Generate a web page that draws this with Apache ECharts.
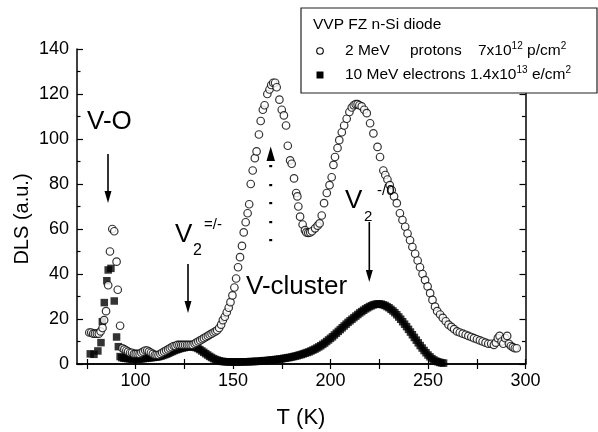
<!DOCTYPE html>
<html>
<head>
<meta charset="utf-8">
<script src="https://cdn.jsdelivr.net/npm/echarts@6/dist/echarts.min.js"></script>
<style>
  html, body { margin: 0; padding: 0; background: #fff; }
  #chart { width: 598px; height: 432px; }
</style>
</head>
<body>
<div id="chart"></div>
<script>
// 2 MeV protons, open circles  [T (K), DLS (a.u.)]
var protons = [
  [76.3,14],[77.3,14],[78.3,13.5],[79.2,13.5],[80.2,13.5],[81.2,13.5],[82.1,14.5],[83.1,16],[83.9,19.5],[84.9,23.5],
  [86.0,35],[86.9,50],[88.1,60],[89.1,59],[90.3,45.5],[90.9,33],[92.1,17],
  [93.3,7],[94.3,6.5],[95.3,6],[96.2,5.5],[97.2,5],[98.2,5],[99.2,4.5],[100.1,4.5],[101.1,4.5],[102.1,4.5],
  [103.0,5],[104.0,5.5],[105.0,6],[106.0,6],[106.9,5.5],[107.9,5],[108.9,4.5],[109.9,4],[110.8,4],[111.8,4],
  [112.8,4.5],[113.7,5],[114.7,5.5],[115.7,6],[116.7,6.5],[117.6,7],[118.6,7.5],[119.6,8],[120.5,8],[121.5,8.5],
  [122.5,8.5],[123.5,8.5],[124.4,8.5],[125.4,8.5],[126.4,8.5],[127.3,8.5],[128.3,8.5],[129.3,8.5],[130.3,9],
  [131.2,9.5],[132.2,10],[133.2,10.5],[134.2,11],[135.1,11.5],[136.1,12],[137.1,12.5],[138.0,13],[139.0,13.5],
  [140.0,14],[141.0,14.5],[141.9,15],[142.9,16],[143.9,17.5],[144.8,19.5],[145.8,21],[146.8,23],[147.8,25],
  [148.7,27.5],[149.7,30.5],[150.7,34],[151.6,38],[152.6,43],[153.6,47.5],[154.6,52.5],[155.5,58.5],[156.5,63],
  [157.5,67],[158.3,71],[159.1,80],[160.1,86],[161.2,91.5],[162.1,94.5],[163.3,102],[164.2,108],[165.3,113],
  [166.2,115],[167.6,120],[168.7,122],[169.6,124],[170.6,125],[171.6,125],[172.4,123],[173.8,117.5],[175.0,113],
  [176.1,110.5],[177.2,106],[178.1,97],[179.3,90.5],[180.1,89],[181.3,82.5],[182.4,76],[183.0,74.5],[183.5,70],
  [184.4,65.5],[185.7,62],[186.9,59.5],[187.6,58.5],[188.6,58.3],[189.6,58.5],[190.5,59],[192.1,60.3],[193.4,61.5],
  [194.4,62.5],[195.5,66],[196.7,71.5],[198.1,76],[199.5,79.5],[200.6,83],[201.5,88.5],[202.3,92],[203.6,96],
  [204.5,99.5],[205.8,103],[207.0,106],[208.3,109],[209.7,112],[210.9,114],[211.9,115],[212.9,115.5],[213.9,115.5],
  [214.8,115],[216.0,114.5],[217.3,113],[218.6,111.5],[220.3,107],[222.0,102.5],[224.1,96.5],[225.4,92],[227.1,86],
  [228.1,84],[229.2,82],[230.4,79.5],[231.4,77.3],[232.6,74.5],[234.0,71.5],[235.6,67],[236.9,64],[238.3,61],
  [239.5,58],[240.8,55],[242.0,52],[243.4,49],[244.7,46],[245.9,43],[247.2,40],[248.5,37.3],[249.8,34.5],
  [251.1,31.5],[252.3,28.5],[253.6,25.5],[254.7,23.5],[256.2,22],[257.6,20.5],[259.1,19],[260.5,17.5],[262.0,16.5],
  [263.4,15.5],[264.9,14.5],[266.3,14],[267.8,13.5],[269.3,13],[270.7,12.5],[272.2,12],[273.6,11.5],[275.1,11],
  [276.6,10.5],[278.0,10],[279.5,9.5],[280.9,9],[282.4,9],[283.8,8.5],[284.8,9.5],[285.8,11.5],[286.7,12.5],
  [287.7,10],[288.6,9],[289.6,11.5],[290.6,12.5],[291.5,9],[292.5,8],[293.5,7.5],[294.5,7],[295.5,7]
];

// 10 MeV electrons, filled squares
var electrons = [
  [76.8,4.5],[78.7,4.3],[80.7,5.8],[82.3,9.5],[83.0,18.8],[84.0,27.3],[85.3,37],[86.0,41.8],[87.4,42.5],[89.1,28],
  [90.3,12],[91.2,7.7],[92.1,3.3],[93,2.8],[94,2.6],[95,2.5],[96,2.4],[97,2.3],[98,2.2],[99,2.2],[100,2.2],
  [101,2.2],[102,2.2],[103,2.3],[104,2.4],[105,2.5],[106,2.6],[107,2.7],[108,2.8],[109,2.9],[110,3],[111,3.1],
  [112,3.3],[113,3.5],[114,3.8],[115,4.1],[116,4.4],[117,4.8],[118,5.2],[119,5.6],[120,6],[121,6.3],[122,6.6],
  [123,6.9],[124,7.1],[125,7.3],[126,7.5],[127,7.6],[128,7.7],[129,7.7],[130,7.6],[131,7.3],[132,6.9],[133,6.4],
  [134,5.8],[135,5.2],[136,4.6],[137,4],[138,3.4],[139,2.9],[140,2.4],[141,2],[142,1.7],[143,1.4],[144,1.2],
  [145,1.1],[146,1.0],[147,1.0],[148,0.9],[149,0.9],[150,0.9],[151,0.9],[152,0.9],[153,0.9],[154,0.9],[155,1.0],
  [156,1.0],[157,1.0],[158,1.0],[159,1.1],[160,1.1],[161,1.1],[162,1.2],[163,1.2],[164,1.3],[165,1.4],[166,1.5],
  [167,1.5],[168,1.6],[169,1.7],[170,1.8],[171,1.9],[172,2.0],[173,2.1],[174,2.2],[175,2.3],[176,2.5],[177,2.6],
  [178,2.8],[179,2.9],[180,3.1],[181,3.3],[182,3.5],[183,3.7],[184,4.0],[185,4.2],[186,4.5],[187,4.8],[188,5.1],
  [189,5.4],[190,5.8],[191,6.2],[192,6.6],[193,7.1],[194,7.6],[195,8.1],[196,8.7],[197,9.3],[198,10.0],[199,10.7],
  [200,11.4],[201,12.1],[202,12.9],[203,13.7],[204,14.5],[205,15.3],[206,16.1],[207,16.9],[208,17.7],[209,18.5],
  [210,19.2],[211,19.9],[212,20.6],[213,21.3],[214,22.0],[215,22.7],[216,23.3],[217,23.9],[218,24.5],[219,25.0],
  [220,25.5],[221,25.9],[222,26.3],[223,26.5],[224,26.7],[225,26.7],[226,26.6],[227,26.3],[228,26.0],[229,25.5],
  [230,25.0],[231,24.3],[232,23.6],[233,22.8],[234,21.9],[235,20.9],[236,19.9],[237,18.8],[238,17.7],[239,16.6],
  [240,15.4],[241,14.2],[242,13.0],[243,11.8],[244,10.6],[245,9.4],[246,8.2],[247,7.1],[248,6.0],[249,5.0],
  [250,4.0],[251,3.2],[252,2.4],[253,1.8],[254,1.3],[255,1.0],[256,0.7],[257,0.5],[258,0.4]
];

var xTicks = [75, 100, 125, 150, 175, 200, 225, 250, 275, 300];
var xLabels = [100, 150, 200, 250, 300];

var FONT = '"Liberation Sans", Arial, sans-serif';

var myChart = echarts.init(document.getElementById('chart'), null, { renderer: 'canvas' });

function xAxisCfg(pos, showLabel) {
  return {
    type: 'value',
    position: pos,
    min: 70,
    max: 300,
    axisLine: { show: true, lineStyle: { color: '#000', width: 1.5 } },
    axisTick: { show: true, inside: true, length: 5, customValues: xTicks, lineStyle: { color: '#000', width: 1.2 } },
    axisLabel: {
      show: showLabel, customValues: xLabels, margin: 8,
      color: '#000', fontSize: 18, fontFamily: FONT
    },
    splitLine: { show: false }
  };
}
function yAxisCfg(pos, showLabel) {
  return {
    type: 'value',
    position: pos,
    min: 0,
    max: 140,
    interval: 20,
    axisLine: { show: true, lineStyle: { color: '#000', width: 1.5 } },
    axisTick: { show: true, inside: true, length: 6, lineStyle: { color: '#000', width: 1.2 } },
    minorTick: { show: true, splitNumber: 2, length: 3.5, lineStyle: { color: '#000', width: 1.2 } },
    axisLabel: { show: showLabel, margin: 8, color: '#000', fontSize: 18, fontFamily: FONT },
    splitLine: { show: false }
  };
}

function txt(x, y, s, size, align) {
  return {
    type: 'text', z: 100,
    style: {
      x: x, y: y, text: s, fill: '#000',
      font: size + 'px ' + FONT,
      textAlign: align || 'left', textVerticalAlign: 'middle'
    }
  };
}
function arrow(x, y1, y2) {
  return [
    { type: 'line', z: 100, shape: { x1: x, y1: y1, x2: x, y2: y2 - 10 }, style: { stroke: '#000', lineWidth: 1.6 } },
    { type: 'polygon', z: 100, shape: { points: [[x - 3.5, y2 - 12], [x + 3.5, y2 - 12], [x, y2]] }, style: { fill: '#000' } }
  ];
}

var graphics = [];
// axis names
graphics.push(txt(301, 418, 'T (K)', 22, 'center'));
graphics.push({
  type: 'text', z: 100, x: 22, y: 219, rotation: Math.PI / 2,
  style: { x: 0, y: 0, text: 'DLS (a.u.)', fill: '#000', font: '20px ' + FONT, textAlign: 'center', textVerticalAlign: 'middle' }
});
// V-O
graphics.push(txt(87, 122, 'V-O', 26));
graphics = graphics.concat(arrow(108, 154, 203));
// V2 =/-
graphics.push(txt(175, 235, 'V', 26));
graphics.push(txt(193, 251, '2', 16));
graphics.push(txt(204, 225, '=/-', 15));
graphics = graphics.concat(arrow(188, 264, 313));
// V-cluster
graphics.push(txt(246, 287, 'V-cluster', 26));
// dotted arrow
[166, 185, 203, 222, 240].forEach(function (y) {
  graphics.push({ type: 'rect', z: 100, shape: { x: 269.2, y: y - 1, width: 3, height: 2.2 }, style: { fill: '#000' } });
});
graphics.push({ type: 'polygon', z: 100, shape: { points: [[266.5, 161], [275, 161], [270.7, 146.5]] }, style: { fill: '#000' } });
// V2 -/0
graphics.push(txt(345, 201, 'V', 26));
graphics.push(txt(364, 217, '2', 15));
graphics.push(txt(377, 191, '-/0', 15));
graphics = graphics.concat(arrow(369.3, 222, 282));

// legend box
graphics.push({ type: 'rect', z: 100, shape: { x: 301, y: 8, width: 296, height: 85 }, style: { fill: '#fff', stroke: '#222', lineWidth: 1.2 } });
graphics.push(txt(313, 25, 'VVP FZ n-Si diode', 15.5));
graphics.push({ type: 'circle', z: 101, shape: { cx: 320, cy: 51, r: 3.3 }, style: { fill: '#fff', stroke: '#000', lineWidth: 1.1 } });
graphics.push(txt(345, 51, '2 MeV', 15.5));
graphics.push(txt(410, 51, 'protons', 15.5));
var richSup = {
  n: { fontSize: 15.5, fontFamily: FONT, lineHeight: 20, color: '#000' },
  s: { fontSize: 10, fontFamily: FONT, lineHeight: 10, verticalAlign: 'top', color: '#000' }
};
graphics.push({
  type: 'text', z: 101,
  style: { x: 478, y: 51, text: '{n|7x10}{s|12}{n| p/cm}{s|2}', rich: richSup, textAlign: 'left', textVerticalAlign: 'middle' }
});
graphics.push({ type: 'rect', z: 101, shape: { x: 316.5, y: 71.5, width: 7, height: 7 }, style: { fill: '#000' } });
graphics.push({
  type: 'text', z: 101,
  style: { x: 345, y: 75, text: '{n|10 MeV electrons 1.4x10}{s|13}{n| e/cm}{s|2}', rich: richSup, textAlign: 'left', textVerticalAlign: 'middle' }
});

var option = {
  backgroundColor: '#fff',
  animation: false,
  grid: { left: 77, right: 72.5, top: 49, bottom: 68, outerBoundsMode: 'none' },
  xAxis: [xAxisCfg('bottom', true), xAxisCfg('top', false)],
  yAxis: [yAxisCfg('left', true), yAxisCfg('right', false)],
  series: [
    {
      name: '10 MeV electrons',
      type: 'scatter',
      symbol: 'rect',
      symbolSize: 7.5,
      itemStyle: { color: '#000' },
      data: electrons,
      z: 2
    },
    {
      name: '2 MeV protons',
      type: 'scatter',
      symbol: 'circle',
      symbolSize: 7.5,
      itemStyle: { color: '#fff', borderColor: '#000', borderWidth: 1.2 },
      data: protons,
      z: 3
    }
  ],
  graphic: graphics
};
myChart.setOption(option, true);
</script>
</body>
</html>
